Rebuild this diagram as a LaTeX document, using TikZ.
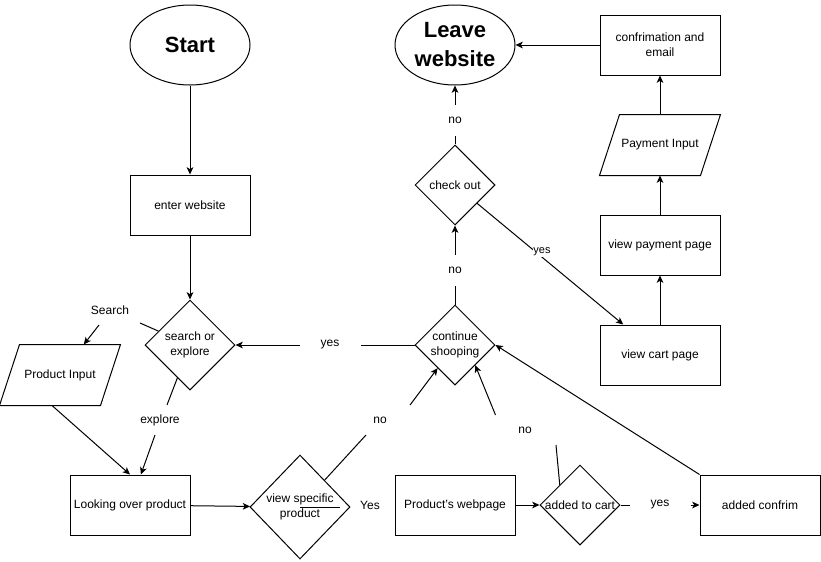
\documentclass[tikz,border=0pt]{standalone}
\usepackage{fontspec}
\setmainfont{Liberation Sans}
\usetikzlibrary{shapes.geometric,arrows.meta,calc}
\begin{document}
\begin{tikzpicture}[x=0.75pt,y=-0.75pt, line width=0.75pt,
  box/.style={draw, rectangle, minimum width=90pt, minimum height=45pt, inner sep=0pt, align=center, font=\fontsize{9}{11}\selectfont},
  term/.style={draw, ellipse, minimum width=90pt, minimum height=60pt, inner sep=0pt, align=center, font=\fontsize{16.5}{21.75}\selectfont\bfseries},
  dec/.style={draw, diamond, inner sep=0pt, minimum width=60pt, minimum height=60pt},
  dtxt/.style={inner sep=0pt, align=center, font=\fontsize{9}{11}\selectfont},
  io/.style={rectangle, minimum width=90pt, minimum height=45pt, inner sep=0pt, font=\fontsize{9}{11}\selectfont},
  lbl/.style={fill=white, inner sep=1pt, font=\fontsize{9}{11}\selectfont},
  arr/.style={-{Stealth[length=5.5pt,width=5pt,inset=1.5pt]}}
]
\useasboundingbox[fill=white] (0,0) rectangle (821,561);

% nodes
\node[term] (start) at (190,45) {Start};
\node[box] (enter) at (190,205) {enter website};
\node[dec, minimum width=67.5pt, minimum height=67.5pt] (soe) at (190,345) {};
\node[dtxt] (soeT) at (190,345) {search or\\explore};
\node[io] (pin) at (60,375) {Product Input};
\draw (pin.south west) -- ([xshift=-15pt]pin.south east) -- (pin.north east) -- ([xshift=15pt]pin.north west) -- cycle;
\node[box] (lop) at (130,505) {Looking over product};
\node[dec, minimum width=75pt, minimum height=78pt] (vsp) at (300,507) {};
\node[dtxt] (vspT) at (300,507) {view specific\\product};
\node[box] (pw) at (455,505) {Product's webpage};
\node[dec] (atc) at (580,505) {};
\node[dtxt] (atcT) at (580,505) {added to cart};
\node[box] (acf) at (760,505) {added confrim};
\node[dec] (cont) at (455,345) {};
\node[dtxt] (contT) at (455,345) {continue\\shooping};
\node[dec] (co) at (455,185) {};
\node[dtxt] (coT) at (455,185) {check out};
\node[term] (leave) at (455,45) {Leave\\website};
\node[box] (conf) at (660,45) {confrimation and\\email};
\node[io] (payin) at (660,145) {Payment Input};
\draw (payin.south west) -- ([xshift=-15pt]payin.south east) -- (payin.north east) -- ([xshift=15pt]payin.north west) -- cycle;
\node[box] (vpp) at (660,245) {view payment page};
\node[box] (vcp) at (660,355) {view cart page};

% labels
\node[lbl, minimum width=45pt] (yes1) at (330,345) {yes};
\node[lbl, minimum height=22.5pt] (no1) at (455,270) {no};
\node[lbl, minimum height=22.5pt] (no2) at (455,120) {no};
\node[lbl, minimum width=45pt] (yes3) at (660,505) {yes};
\node[lbl] (searchL) at (110,310) {Search};
\node[lbl] (exploreL) at (160,420) {explore};
\node[lbl] (no3) at (380,420) {no};
\node[lbl] (no4) at (525,430) {no};
\node[lbl] (yesV) at (370,505) {Yes};

% free ends
\coordinate (s1) at (140,323);
\coordinate (s2) at (99,325);
\coordinate (e1) at (167,405);
\coordinate (e2) at (155,435);
\coordinate (n1) at (366,435);
\coordinate (n2) at (410,405);
\coordinate (m1) at (556,445);
\coordinate (m2) at (495.5,415);
\coordinate (vs1) at (340,507);

% connectors
\draw[arr] (start) -- (enter);
\draw[arr] (enter) -- (soe);
\draw (s1) -- (soe);
\draw[arr] (s2) -- (pin);
\draw (soe) -- (e1);
\draw[arr] (e2) -- (lop);
\draw[arr] ([xshift=-6pt]pin.south) -- (lop.north);
\draw[arr] (lop) -- (vsp);
\draw (vsp) -- (n1);
\draw[arr] (n2) -- (cont);
\draw (vsp.center) -- (vs1);
\draw[arr] (pw) -- (atc);
\draw (atc) -- (yes3);
\draw[arr] (yes3) -- (acf);
\draw ($(atc.west)!0.5!(atc.north)$) -- (m1);
\draw[arr] (m2) -- ($(cont.south)!0.5!(cont.east)$);
\draw[arr] (acf.north west) -- (cont.east);
\draw (cont) -- (yes1);
\draw[arr] (yes1) -- (soe);
\draw (cont) -- (no1);
\draw[arr] (no1) -- (co);
\draw (co) -- (no2);
\draw[arr] (no2) -- (leave);
\draw[arr] (co) -- (vcp);
\node[lbl, inner sep=0.5pt, font=\fontsize{8.25}{10}\selectfont] (yes2) at (542,252) {yes};
\draw[arr] (conf) -- (leave);
\draw[arr] (payin) -- (conf);
\draw[arr] (vpp) -- (payin);
\draw[arr] (vcp) -- (vpp);
\end{tikzpicture}
\end{document}
